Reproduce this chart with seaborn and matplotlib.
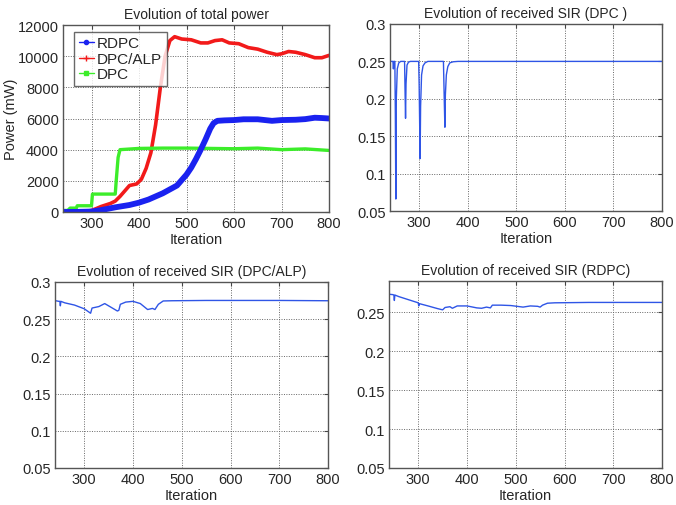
import matplotlib
matplotlib.use("Agg")
import matplotlib.pyplot as plt
import seaborn as sns
import pandas as pd
from matplotlib.lines import Line2D

# ---------------- data ----------------
rdpc_x = [240, 260, 280, 300, 320, 350, 380, 400, 420, 450, 480, 500, 510, 520, 530, 540, 550, 557, 565, 580, 600, 620, 650, 680, 700, 730, 750, 770, 785, 800]
rdpc_y = [0, 5, 15, 30, 120, 300, 450, 600, 800, 1200, 1700, 2400, 2850, 3400, 4000, 4650, 5350, 5700, 5850, 5880, 5900, 5950, 5950, 5850, 5900, 5920, 5960, 6050, 6030, 6000]

alp_x = [240, 260, 290, 300, 310, 320, 340, 350, 360, 370, 380, 395, 405, 415, 425, 435, 445, 455, 465, 475, 490, 510, 530, 545, 560, 575, 590, 610, 630, 650, 670, 690, 700, 715, 730, 750, 770, 785, 800]
alp_y = [0, 30, 50, 100, 220, 350, 550, 700, 1000, 1350, 1700, 1800, 2100, 2800, 3800, 5600, 8000, 10000, 11000, 11250, 11100, 11050, 10850, 10850, 11000, 11050, 10850, 10800, 10550, 10450, 10250, 10100, 10150, 10300, 10250, 10100, 9900, 9900, 10050]

dpc_x = [240, 250, 255, 268, 270, 300, 302, 350, 352, 356, 360, 400, 450, 500, 550, 600, 650, 700, 750, 800]
dpc_y = [100, 100, 250, 250, 400, 400, 1150, 1150, 2000, 3500, 4000, 4080, 4100, 4100, 4080, 4060, 4100, 4000, 4050, 3950]

sir_dpc_x = [240, 246, 247, 248, 250, 251, 252, 253, 255, 258, 262, 270, 271, 272, 273, 275, 278, 282, 299, 300, 301, 302, 303, 305, 308, 312, 318, 350, 351, 352, 353, 354, 356, 359, 363, 370, 380, 800]
sir_dpc_y = [0.25, 0.25, 0.24, 0.25, 0.25, 0.18, 0.066, 0.20, 0.24, 0.248, 0.25, 0.25, 0.21, 0.174, 0.22, 0.245, 0.249, 0.25, 0.25, 0.22, 0.17, 0.12, 0.19, 0.232, 0.244, 0.248, 0.25, 0.25, 0.22, 0.19, 0.162, 0.205, 0.232, 0.243, 0.248, 0.2495, 0.25, 0.25]

sir_alp_x = [240, 248, 250, 251, 252, 260, 280, 300, 313, 316, 330, 342, 355, 368, 371, 374, 385, 400, 415, 430, 440, 445, 452, 462, 480, 550, 600, 700, 800]
sir_alp_y = [0.275, 0.274, 0.274, 0.268, 0.274, 0.272, 0.269, 0.264, 0.258, 0.265, 0.267, 0.271, 0.266, 0.261, 0.262, 0.270, 0.273, 0.274, 0.271, 0.263, 0.2645, 0.263, 0.270, 0.2745, 0.2748, 0.2752, 0.2752, 0.2752, 0.2748]

sir_rdpc_x = [240, 248, 250, 251, 252, 260, 280, 300, 301, 302, 320, 340, 350, 355, 365, 370, 380, 400, 420, 430, 440, 448, 452, 470, 490, 515, 530, 545, 550, 555, 565, 580, 650, 700, 800]
sir_rdpc_y = [0.273, 0.2725, 0.272, 0.265, 0.272, 0.270, 0.266, 0.262, 0.258, 0.261, 0.258, 0.2545, 0.253, 0.256, 0.257, 0.255, 0.258, 0.258, 0.2555, 0.255, 0.2565, 0.2555, 0.259, 0.259, 0.2585, 0.2565, 0.258, 0.2575, 0.2565, 0.259, 0.2615, 0.262, 0.2625, 0.2625, 0.2625]

power_labels = ["RDPC", "DPC/ALP", "DPC"]
x_ticks = [300, 400, 500, 600, 700, 800]
power_ticks = [0, 2000, 4000, 6000, 8000, 10000, 12000]
sir_ticks = [0.05, 0.1, 0.15, 0.2, 0.25, 0.3]
sir_ticks_rdpc = [0.05, 0.1, 0.15, 0.2, 0.25]

# ---------------- style ----------------
sns.set_style("white")
plt.rcParams["font.family"] = ["Liberation Sans", "DejaVu Sans"]
plt.rcParams["font.size"] = 10

fig = plt.figure(figsize=(6.76, 5.06), dpi=100)
W, H = 676, 506

def mk_ax(l, t, r, b):
    return fig.add_axes([l / W, 1 - b / H, (r - l) / W, (b - t) / H])

ax1 = mk_ax(63, 26, 329, 213)
ax2 = mk_ax(390, 25, 662, 212)
ax3 = mk_ax(55, 283, 328, 469)
ax4 = mk_ax(389, 282, 662, 469)

blue_p = "#1a22f0"
red_p = "#f21a1a"
green_p = "#3ced2a"
sir_blue = "#2f55e6"

df_r = pd.DataFrame({"x": rdpc_x, "y": rdpc_y})
df_a = pd.DataFrame({"x": alp_x, "y": alp_y})
df_d = pd.DataFrame({"x": dpc_x, "y": dpc_y})
sns.lineplot(data=df_a, x="x", y="y", ax=ax1, color=red_p, lw=2.6, estimator=None, sort=False)
sns.lineplot(data=df_d, x="x", y="y", ax=ax1, color=green_p, lw=2.4, estimator=None, sort=False)
sns.lineplot(data=df_r, x="x", y="y", ax=ax1, color=blue_p, lw=4.2, estimator=None, sort=False)

for ax, xs, ys in [(ax2, sir_dpc_x, sir_dpc_y), (ax3, sir_alp_x, sir_alp_y), (ax4, sir_rdpc_x, sir_rdpc_y)]:
    sns.lineplot(data=pd.DataFrame({"x": xs, "y": ys}), x="x", y="y", ax=ax,
                 color=sir_blue, lw=1.0, estimator=None, sort=False)

titles = ["Evolution of total power", "Evolution of received SIR (DPC )",
          "Evolution of received SIR (DPC/ALP)", "Evolution of received SIR (RDPC)"]
for ax, t in zip([ax1, ax2, ax3, ax4], titles):
    ax.set_xlim(240, 800)
    ax.set_xticks(x_ticks)
    ax.set_xlabel("Iteration", fontsize=10.5, labelpad=1)
    ax.set_ylabel("")
    ax.set_title(t, fontsize=10, pad=5)
    ax.grid(True, color="#666666", linestyle=(0, (1, 1.5)), lw=0.7)
    ax.tick_params(direction="in", length=3, labelsize=10.5, pad=3, top=True, right=True,
                   color="#444444")
    for s in ax.spines.values():
        s.set_visible(True)
        s.set_color("#555555")
        s.set_linewidth(1.0)

ax1.set_ylim(0, 12000)
ax1.set_yticks(power_ticks)
ax1.set_ylabel("Power (mW)", fontsize=10.5, labelpad=0)
ax2.set_ylim(0.05, 0.3)
ax2.set_yticks(sir_ticks)
ax2.set_yticklabels(["0.05", "0.1", "0.15", "0.2", "0.25", "0.3"])
ax3.set_ylim(0.05, 0.3)
ax3.set_yticks(sir_ticks)
ax3.set_yticklabels(["0.05", "0.1", "0.15", "0.2", "0.25", "0.3"])
ax4.set_ylim(0.05, 0.29)
ax4.set_yticks(sir_ticks_rdpc)
ax4.set_yticklabels(["0.05", "0.1", "0.15", "0.2", "0.25"])

handles = [Line2D([], [], color=blue_p, lw=1, marker="o", markersize=3),
           Line2D([], [], color=red_p, lw=1, marker="+", markersize=5),
           Line2D([], [], color=green_p, lw=1, marker="s", markersize=2.5)]
leg = ax1.legend(handles, power_labels, loc="upper left", bbox_to_anchor=(0.03, 0.98),
                 fontsize=11, frameon=True, fancybox=False, handlelength=1.0,
                 handletextpad=0.2, borderpad=0.3, labelspacing=0.1, borderaxespad=0.2)
leg.get_frame().set_edgecolor("#444444")
leg.get_frame().set_linewidth(1.0)

fig.savefig("out.png", dpi=100)
